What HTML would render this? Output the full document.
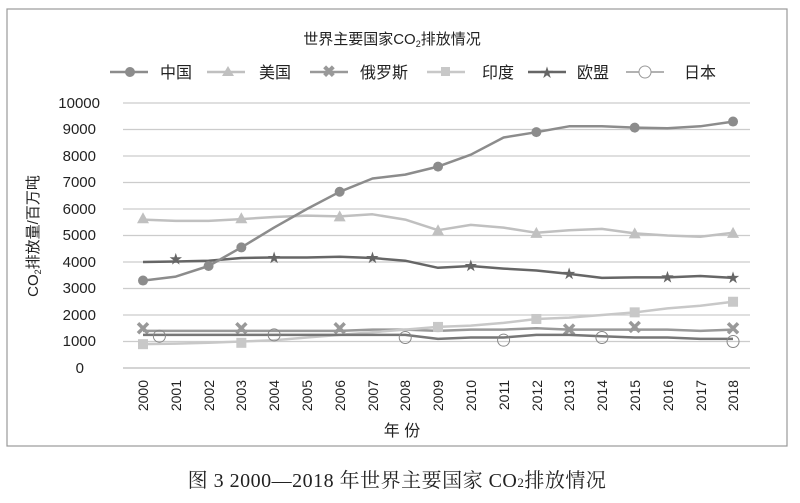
<!DOCTYPE html>
<html><head><meta charset="utf-8"><style>
body{margin:0;background:#fff;width:800px;height:498px;overflow:hidden}
svg text{font-family:"Liberation Sans","Noto Sans CJK SC",sans-serif}
</style></head><body>
<svg id="s" width="800" height="498" xmlns="http://www.w3.org/2000/svg">
<rect x="7" y="9" width="780" height="437" fill="#fff" stroke="#999" stroke-width="1.2"/>
<text x="392" y="44" font-size="15" text-anchor="middle" fill="#222">世界主要国家CO<tspan font-size="9" dy="3">2</tspan><tspan dy="-3">排放情况</tspan></text>
<g font-size="16" fill="#222">
<line x1="110" y1="72" x2="148" y2="72" stroke="#8c8c8c" stroke-width="2.5"/><circle cx="130" cy="72" r="5" fill="#8c8c8c"/><text x="160" y="78">中国</text>
<line x1="207" y1="72" x2="245" y2="72" stroke="#c0c0c0" stroke-width="2.5"/><polygon points="228,66 234,76 222,76" fill="#c0c0c0"/><text x="259" y="78">美国</text>
<line x1="310" y1="72" x2="348" y2="72" stroke="#999" stroke-width="2.5"/><text x="329" y="77" font-size="16" font-weight="bold" fill="#999" text-anchor="middle">✖</text><text x="360" y="78">俄罗斯</text>
<line x1="427" y1="72" x2="465" y2="72" stroke="#c8c8c8" stroke-width="2.5"/><rect x="441" y="67" width="9" height="9" fill="#c8c8c8"/><text x="482" y="78">印度</text>
<line x1="528" y1="72" x2="566" y2="72" stroke="#666" stroke-width="2.5"/><text x="547" y="77" font-size="13" fill="#666" text-anchor="middle">★</text><text x="577" y="78">欧盟</text>
<line x1="626" y1="72" x2="664" y2="72" stroke="#999" stroke-width="1.5"/><circle cx="645" cy="72" r="6" fill="#fff" stroke="#999"/><text x="684" y="78">日本</text>
</g>
<g stroke="#ccc" stroke-width="1.2">
<line x1="123" y1="103" x2="750" y2="103"/><line x1="123" y1="129.5" x2="750" y2="129.5"/><line x1="123" y1="156" x2="750" y2="156"/><line x1="123" y1="182.5" x2="750" y2="182.5"/><line x1="123" y1="209" x2="750" y2="209"/><line x1="123" y1="235.5" x2="750" y2="235.5"/><line x1="123" y1="262" x2="750" y2="262"/><line x1="123" y1="288.5" x2="750" y2="288.5"/><line x1="123" y1="315" x2="750" y2="315"/><line x1="123" y1="341.5" x2="750" y2="341.5"/><line x1="123" y1="368" x2="750" y2="368" stroke="#bbb"/>
</g>
<g font-size="15" fill="#222" text-anchor="end">
<text x="100" y="108">10000</text><text x="96" y="134">9000</text><text x="96" y="161">8000</text><text x="96" y="187">7000</text><text x="96" y="214">6000</text><text x="96" y="240">5000</text><text x="96" y="267">4000</text><text x="96" y="293">3000</text><text x="96" y="320">2000</text><text x="96" y="346">1000</text><text x="84" y="373">0</text>
</g>
<text transform="translate(38,236) rotate(-90)" font-size="15" fill="#222" text-anchor="middle">CO<tspan font-size="9" dy="3">2</tspan><tspan dy="-3">排放量/百万吨</tspan></text>
<g font-size="14" fill="#222" text-anchor="end">
<text transform="translate(148,380) rotate(-90)">2000</text><text transform="translate(181,380) rotate(-90)">2001</text><text transform="translate(214,380) rotate(-90)">2002</text><text transform="translate(246,380) rotate(-90)">2003</text><text transform="translate(279,380) rotate(-90)">2004</text><text transform="translate(312,380) rotate(-90)">2005</text><text transform="translate(345,380) rotate(-90)">2006</text><text transform="translate(378,380) rotate(-90)">2007</text><text transform="translate(410,380) rotate(-90)">2008</text><text transform="translate(443,380) rotate(-90)">2009</text><text transform="translate(476,380) rotate(-90)">2010</text><text transform="translate(509,380) rotate(-90)">2011</text><text transform="translate(542,380) rotate(-90)">2012</text><text transform="translate(574,380) rotate(-90)">2013</text><text transform="translate(607,380) rotate(-90)">2014</text><text transform="translate(640,380) rotate(-90)">2015</text><text transform="translate(673,380) rotate(-90)">2016</text><text transform="translate(706,380) rotate(-90)">2017</text><text transform="translate(738,380) rotate(-90)">2018</text>
</g>
<text x="402" y="436" font-size="16" fill="#222" text-anchor="middle">年 份</text>
<text x="397" y="487" font-size="20" fill="#222" text-anchor="middle" letter-spacing="0.5" style="font-family:'Liberation Serif','Noto Serif CJK SC',serif">图 3 2000—2018 年世界主要国家 CO<tspan font-size="13">2</tspan>排放情况</text>
<g id="series"></g>
</svg>
<script>
var X=function(i){return 143+i*32.78},Y=function(v){return 368-v*0.0265};
var S=[
{c:"#999",w:2.5,m:"x",d:[1400,1400,1400,1400,1400,1400,1400,1450,1450,1400,1450,1450,1500,1450,1450,1450,1450,1400,1450],at:[[0,1500],[3,1500],[6,1500],[13,1450],[15,1550],[18,1500]]},
{c:"#c8c8c8",w:2.5,m:"s",d:[900,920,950,1000,1050,1150,1250,1350,1450,1550,1600,1700,1850,1900,2000,2100,2250,2350,2500],at:[[0,900],[3,950],[9,1550],[12,1850],[15,2100],[18,2500]]},
{c:"#777",w:2.5,m:"o",d:[1250,1250,1250,1250,1250,1250,1250,1250,1250,1100,1150,1150,1250,1250,1200,1150,1150,1100,1100],at:[[0.5,1200],[4,1250],[8,1150],[11,1050],[14,1150],[18,1000]]},
{c:"#666",w:2.5,m:"star",d:[4000,4020,4050,4150,4170,4170,4200,4150,4050,3780,3850,3750,3680,3550,3400,3420,3420,3470,3400],at:[[1,4100],[4,4150],[7,4150],[10,3850],[13,3550],[16,3420],[18,3400]]},
{c:"#c0c0c0",w:2.5,m:"t",d:[5600,5550,5550,5620,5700,5750,5720,5800,5600,5200,5400,5300,5100,5200,5250,5080,5000,4950,5100],at:[[0,5650],[3,5650],[6,5720],[9,5200],[12,5100],[15,5080],[18,5100]]},
{c:"#8c8c8c",w:2.5,m:"c",d:[3300,3450,3850,4550,5300,6000,6650,7150,7300,7600,8050,8700,8900,9120,9120,9070,9050,9120,9300],at:[[0,3300],[2,3850],[3,4550],[6,6650],[9,7600],[12,8900],[15,9070],[18,9300]]}];
var g=document.getElementById("series"),h="";
S.forEach(function(s){
 var p=s.d.map(function(v,i){return X(i).toFixed(1)+","+Y(v).toFixed(1)}).join(" ");
 h+='<polyline points="'+p+'" fill="none" stroke="'+s.c+'" stroke-width="'+s.w+'" stroke-linejoin="round"/>';
 s.at.forEach(function(a){var x=X(a[0]),y=Y(a[1]);
  if(s.m=="c")h+='<circle cx="'+x+'" cy="'+y+'" r="5" fill="'+s.c+'"/>';
  if(s.m=="o")h+='<circle cx="'+x+'" cy="'+y+'" r="6" fill="none" stroke="#888"/>';
  if(s.m=="s")h+='<rect x="'+(x-5)+'" y="'+(y-5)+'" width="10" height="10" fill="'+s.c+'"/>';
  if(s.m=="t")h+='<polygon points="'+x+','+(y-6)+' '+(x+6)+','+(y+5)+' '+(x-6)+','+(y+5)+'" fill="'+s.c+'"/>';
  if(s.m=="x")h+='<path d="M'+(x-5)+' '+(y-5)+'L'+(x+5)+' '+(y+5)+'M'+(x+5)+' '+(y-5)+'L'+(x-5)+' '+(y+5)+'" stroke="'+s.c+'" stroke-width="3.5"/>';
  if(s.m=="star"){var pts=[];for(var k=0;k<10;k++){var r=k%2?2.5:6.5,an=-Math.PI/2+k*Math.PI/5;pts.push((x+r*Math.cos(an)).toFixed(1)+","+(y+r*Math.sin(an)).toFixed(1));}h+='<polygon points="'+pts.join(" ")+'" fill="'+s.c+'"/>';}
 });
});
g.innerHTML=h;
</script>
</body></html>
